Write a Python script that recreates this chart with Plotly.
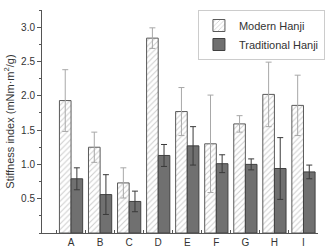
import plotly.graph_objects as go

categories = ["A", "B", "C", "D", "E", "F", "G", "H", "I"]
modern = [1.93, 1.25, 0.73, 2.84, 1.77, 1.30, 1.59, 2.02, 1.86]
modern_err = [0.45, 0.22, 0.22, 0.15, 0.35, 0.71, 0.12, 0.47, 0.44]
traditional = [0.79, 0.56, 0.46, 1.13, 1.27, 1.01, 1.00, 0.94, 0.89]
traditional_err = [0.16, 0.29, 0.15, 0.16, 0.28, 0.13, 0.08, 0.45, 0.10]
y_ticks = [0.5, 1.0, 1.5, 2.0, 2.5, 3.0]
y_ticklabels = ["0.5", "1.0", "1.5", "2.0", "2.5", "3.0"]

fig = go.Figure()
fig.add_trace(go.Bar(
    name="Modern Hanji", x=categories, y=modern,
    error_y=dict(type="data", array=modern_err, color="#a8a8a8", thickness=1, width=3),
    marker=dict(color="white", line=dict(color="#5a5a5a", width=1),
                pattern=dict(shape="/", fgcolor="#9a9a9a", bgcolor="white", size=4, solidity=0.25)),
))
fig.add_trace(go.Bar(
    name="Traditional Hanji", x=categories, y=traditional,
    error_y=dict(type="data", array=traditional_err, color="#3a3a3a", thickness=1, width=3),
    marker=dict(color="#707070", line=dict(color="#404040", width=1)),
))

fig.update_layout(
    width=327, height=250,
    margin=dict(l=42, r=2, t=10, b=14),
    paper_bgcolor="white", plot_bgcolor="white",
    barmode="group", bargap=0.2, bargroupgap=0,
    font=dict(family="Liberation Sans, Arial, sans-serif", size=10, color="#333"),
    showlegend=True,
    legend=dict(x=0.565, y=1.0, xanchor="left", yanchor="top",
                bordercolor="#cccccc", borderwidth=1, bgcolor="white",
                font=dict(size=11, color="#333"), tracegroupgap=0,
                itemwidth=30),
    xaxis=dict(type="category", range=[-1.0, 8.5], showline=True, linecolor="#555", linewidth=1,
               ticks="inside", ticklen=3, tickcolor="#555", tickson="boundaries",
               showgrid=False, zeroline=False, tickfont=dict(size=10, color="#333")),
    yaxis=dict(range=[0, 3.25], showline=True, linecolor="#555", linewidth=1,
               tickvals=y_ticks, ticktext=y_ticklabels, ticks="outside", ticklen=4, tickcolor="#555",
               minor=dict(dtick=0.25, tick0=0, ticks="outside", ticklen=2, tickcolor="#555"),
               showgrid=False, zeroline=False, tickfont=dict(size=10, color="#333"),
               title=dict(text="Stiffness index (mNm·m<sup>2</sup>/g)", font=dict(size=11), standoff=4)),
)

fig.write_html("out.html")
